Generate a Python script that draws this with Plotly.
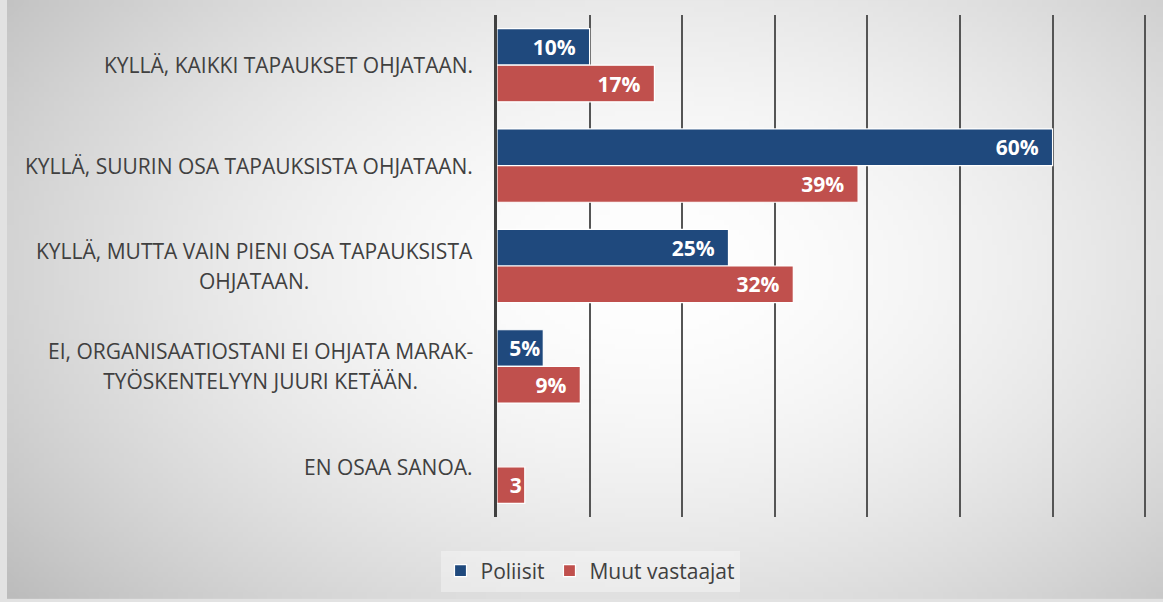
import base64, struct, zlib
import numpy as np
import plotly.graph_objects as go

# ---------------- data ----------------
categories = [
    "KYLLÄ, KAIKKI TAPAUKSET OHJATAAN.",
    "KYLLÄ, SUURIN OSA TAPAUKSISTA OHJATAAN.",
    "KYLLÄ, MUTTA VAIN PIENI OSA TAPAUKSISTA<br>OHJATAAN.",
    "EI, ORGANISAATIOSTANI EI OHJATA MARAK-<br>TYÖSKENTELYYN JUURI KETÄÄN.",
    "EN OSAA SANOA.",
]
series_names = ["Poliisit", "Muut vastaajat"]
poliisit = [10, 60, 25, 5, 0]
muut = [17, 39, 32, 9, 3]
poliisit_labels = ["10%", "60%", "25%", "5%", ""]
muut_labels = ["17%", "39%", "32%", "9%", "3"]
x_ticks = [0, 10, 20, 30, 40, 50, 60, 70]

# ---------------- layout constants ----------------
W, H = 1163, 602
ML, MR, MT, MB = 497, 16, 15, 84
PW, PH = W - ML - MR, H - MT - MB
BLUE = "#1F497D"
RED = "#C0504D"
TXT = "#404040"
NB = "\u00a0"
FS = 21


def gradient_png(w=233, h=121):
    xs = (np.arange(w) + 0.5) / w
    ys = (np.arange(h) + 0.5) / h
    X, Y = np.meshgrid(xs, ys)
    r = np.sqrt(((X - 0.56) / 0.62) ** 2 + ((Y - 0.45) / 0.75) ** 2)
    c = 255 - 52 * np.clip(r, 0, 1.5) ** 1.7
    arr = np.clip(c, 0, 255).astype(np.uint8)
    raw = b"".join(b"\x00" + arr[i].tobytes() for i in range(h))

    def chunk(t, d):
        return struct.pack(">I", len(d)) + t + d + struct.pack(">I", zlib.crc32(t + d) & 0xFFFFFFFF)

    png = b"\x89PNG\r\n\x1a\n" + chunk(b"IHDR", struct.pack(">IIBBBBB", w, h, 8, 0, 0, 0, 0)) \
        + chunk(b"IDAT", zlib.compress(raw, 9)) + chunk(b"IEND", b"")
    return "data:image/png;base64," + base64.b64encode(png).decode()


def pad_label(lbl, v):
    if not lbl:
        return ""
    if v >= 8:
        return lbl + NB * 2
    return lbl

fig = go.Figure()
fig.add_trace(go.Bar(
    y=categories, x=poliisit, name=series_names[0], orientation="h",
    marker=dict(color=BLUE, line=dict(color="white", width=1.2)),
    text=[pad_label(l, v) for l, v in zip(poliisit_labels, poliisit)],
    textposition="inside", insidetextanchor="end", constraintext="none",
    textfont=dict(family="Open Sans", size=FS, color="white", weight="bold"),
    hoverinfo="x+y",
))
fig.add_trace(go.Bar(
    y=categories, x=muut, name=series_names[1], orientation="h",
    marker=dict(color=RED, line=dict(color="white", width=1.2)),
    text=[pad_label(l, v) for l, v in zip(muut_labels, muut)],
    textposition="inside", insidetextanchor="end", constraintext="none",
    textfont=dict(family="Open Sans", size=FS, color="white", weight="bold"),
    hoverinfo="x+y",
))

annotations = []
for cat in categories:
    lines = cat.split("<br>")
    txt = "<br>".join(f"<span style='font-size:{FS}px'>{ln}</span>" for ln in lines)
    annotations.append(dict(
        x=0, y=cat, xref="x", yref="y", xanchor="right", yanchor="middle",
        xshift=-22, text=txt, showarrow=False, align="center",
        font=dict(family="Open Sans", size=23, color=TXT),
    ))

fig.update_layout(
    width=W, height=H,
    margin=dict(l=ML, r=MR, t=MT, b=MB, pad=0),
    paper_bgcolor="#e2e2e2",
    plot_bgcolor="rgba(0,0,0,0)",
    barmode="group", bargap=0.27, bargroupgap=0.0,
    font=dict(family="Open Sans", size=FS, color=TXT),
    xaxis=dict(range=[0, 70.2], tickvals=x_ticks, showticklabels=False,
               showgrid=True, gridcolor="#555555", gridwidth=1.5,
               zeroline=False, showline=False, fixedrange=True),
    yaxis=dict(autorange="reversed", showticklabels=False, showgrid=False,
               showline=True, linecolor="#404040", linewidth=3, zeroline=False,
               ticks="", fixedrange=True),
    legend=dict(orientation="h", x=(590 - ML) / PW, xanchor="center",
                y=(H - MB - 571) / PH, yanchor="middle",
                font=dict(family="Open Sans", size=FS, color=TXT),
                bgcolor="rgba(255,255,255,0.35)", itemwidth=30,
                traceorder="normal"),
    annotations=annotations,
    images=[dict(source=gradient_png(), xref="paper", yref="paper",
                 x=(7 - ML) / PW, y=1 + MT / PH, sizex=(W - 7) / PW, sizey=(H - 2) / PH,
                 xanchor="left", yanchor="top", sizing="stretch", layer="below")],
    showlegend=True,
)

fig.write_html("out.html", config={"displayModeBar": False},
               post_script="document.body.style.margin='0';document.body.style.overflow='hidden';")
